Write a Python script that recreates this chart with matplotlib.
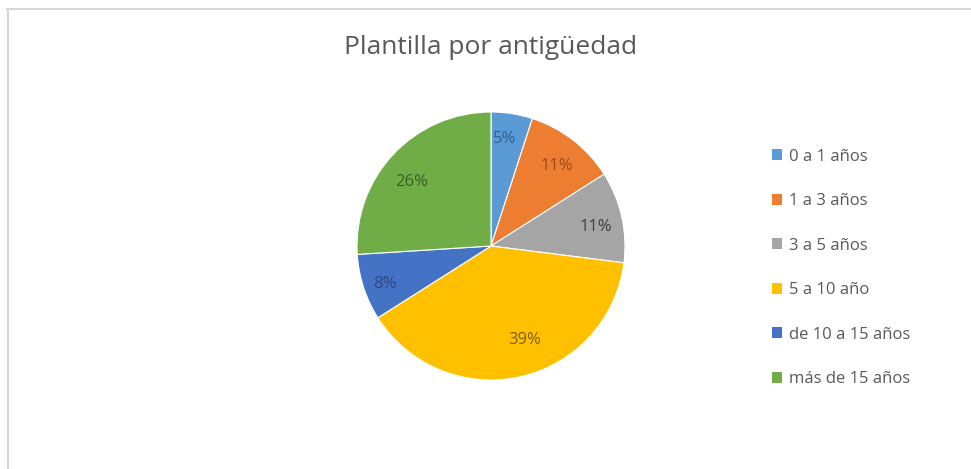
import matplotlib.pyplot as plt
from matplotlib.patches import Patch
from matplotlib.lines import Line2D

plt.rcParams['font.family'] = ['Open Sans', 'DejaVu Sans']

categories = ['0 a 1 años', '1 a 3 años', '3 a 5 años', '5 a 10 año',
              'de 10 a 15 años', 'más de 15 años']
shares = [5, 11, 11, 39, 8, 26]
slice_colors = ['#5B9BD5', '#ED7D31', '#A5A5A5', '#FFC000', '#4472C4', '#70AD47']
label_colors = ['#2F5F8F', '#9C4A1A', '#3F3F3F', '#7F6000', '#2F4A80', '#3B5E25']
# where each percentage sits inside its slice (pie radius = 1)
label_pos = [(0.10, 0.80), (0.49, 0.60), (0.78, 0.14),
             (0.25, -0.70), (-0.79, -0.28), (-0.59, 0.48)]

W, H = 971, 469
fig = plt.figure(figsize=(W / 100, H / 100), dpi=100)

# thin frame along the top and left edge
fig.add_artist(Line2D([7 / W, 1], [1 - 9.5 / H, 1 - 9.5 / H], color='#d6d6d6', lw=1.5))
fig.add_artist(Line2D([7.5 / W, 7.5 / W], [0, 1 - 9.5 / H], color='#d6d6d6', lw=1.5))

fig.text(491 / W, 1 - 47 / H, 'Plantilla por antigüedad', ha='center', va='center',
         fontsize=19, color='#595959')

cx, cy, r = 491, 246, 134
ax = fig.add_axes([(cx - r) / W, 1 - (cy + r) / H, 2 * r / W, 2 * r / H])
wedges, texts = ax.pie(shares, colors=slice_colors, startangle=90, counterclock=False,
                       wedgeprops=dict(edgecolor='white', linewidth=0.8),
                       labels=[f'{v}%' for v in shares], labeldistance=0.8,
                       textprops=dict(fontsize=12))
for t, c, p in zip(texts, label_colors, label_pos):
    t.set_color(c)
    t.set_position(p)
    t.set_ha('center')
    t.set_va('center')
ax.set_xlim(-1, 1)
ax.set_ylim(-1, 1)
ax.set_aspect('equal')

handles = [Patch(facecolor=c, edgecolor='none') for c in slice_colors]
leg = fig.legend(handles, categories, loc='upper left',
                 bbox_to_anchor=(765 / W, 1 - 142 / H), frameon=False,
                 fontsize=12, handlelength=0.6, handleheight=0.6,
                 handletextpad=0.45, labelspacing=1.71, borderaxespad=0)
for t in leg.get_texts():
    t.set_color('#595959')

fig.savefig('out.png', dpi=100, facecolor='white')
